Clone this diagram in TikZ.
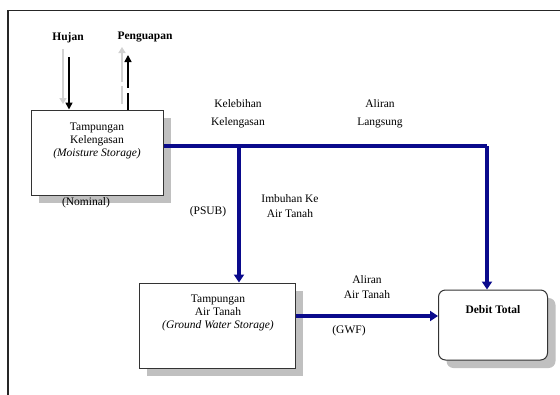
\documentclass[tikz,border=0pt]{standalone}
\usepackage{fontspec}
\setmainfont{Liberation Serif}
\usetikzlibrary{arrows.meta,shadows}
\definecolor{navy}{RGB}{10,10,140}
\definecolor{shade}{RGB}{192,192,192}
\tikzset{
  x=1pt,y=-1pt,
  lbl/.style={font=\fontsize{11.5}{13}\selectfont, inner sep=0pt, align=center},
  blbl/.style={lbl, font=\fontsize{11.5}{13}\selectfont\bfseries},
  storebox/.style={draw=black!80, line width=1pt, fill=white, minimum width=#1, inner sep=0pt,
     drop shadow={shadow xshift=8pt, shadow yshift=-8pt, fill=shade, opacity=1}},
  flow/.style={draw=navy, line width=3.2pt},
  flowarr/.style={flow, -{Triangle[length=8pt,width=10pt]}},
  ghost/.style={draw=black!18, line width=2.4pt, -{Triangle[length=6pt,width=7pt]}},
  vert/.style={draw=black, line width=1.6pt, -{Triangle[length=7pt,width=7pt]}},
}
\begin{document}
\begin{tikzpicture}
\useasboundingbox (0,0) rectangle (560,394);
\fill[white] (0,0) rectangle (560,394);
% frame
\draw[black!85, line width=1.2pt] (8,400) -- (8,10.5) -- (565,10.5);
% boxes
\node[storebox=132pt, minimum height=85pt] (ms) at (97,152.5) {};
\node[storebox=156pt, minimum height=85pt] (gw) at (217,325.5) {};
\node[storebox=109pt, minimum height=70pt, rounded corners=7pt] (dt) at (493,325) {};
% box texts
\node[lbl] (mst) at (97,141) {Tampungan\\[0pt]Kelengasan\\[0pt]\textit{(Moisture Storage)}};
\node[lbl] (gwt) at (218,313) {Tampungan\\[0pt]Air Tanah\\[0pt]\textit{(Ground Water Storage)}};
\node[blbl] (dtt) at (493,310) {Debit Total};
% top labels
\node[blbl] (hujan) at (68,38) {Hujan};
\node[blbl] (peng) at (145,37) {Penguapan};
% rain / evaporation arrows
\coordinate (hs) at (69,57);
\coordinate (hgs) at (63,49);
\coordinate (hge) at (63,104);
\coordinate (ps) at (128,55);
\coordinate (pgs) at (122,104);
\coordinate (pge) at (122,47);
\draw[ghost] (hgs) -- (hge);
\draw[ghost, dash pattern=on 18pt off 4pt on 60pt] (pgs) -- (pge);
\draw[vert] (hs) -- (hs |- ms.north);
\draw[vert, dash pattern=on 17pt off 5pt on 60pt] (ps |- ms.north) -- (ps);
% flows
\coordinate (junc) at (239,146);
\coordinate (corner) at (487,146);
\draw[flow] (ms.east |- junc) -- (junc) -- (corner);
\draw[flowarr] (corner) -- (corner |- dt.north);
\draw[flowarr] (junc) -- (junc |- gw.north);
\draw[flowarr] (gw.east |- 0,316) -- (dt.west |- 0,316);
% flow labels
\node[lbl] (keleb) at (238,114) {Kelebihan\\[5pt]Kelengasan};
\node[lbl] (alir) at (380,114) {Aliran\\[5pt]Langsung};
\node[lbl] (nom) at (86,203) {(Nominal)};
\node[lbl] (psub) at (208,212) {(PSUB)};
\node[lbl] (imb) at (290,206) {Imbuhan Ke\\[2pt]Air Tanah};
\node[lbl] (agt) at (367,287) {Aliran\\[2pt]Air Tanah};
\node[lbl] (gwf) at (349,331) {(GWF)};
\end{tikzpicture}
\end{document}
